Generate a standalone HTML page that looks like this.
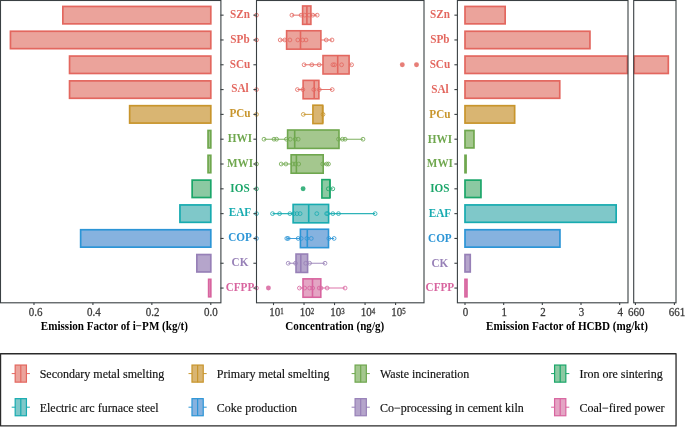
<!DOCTYPE html>
<html><head><meta charset="utf-8"><style>
html,body{margin:0;padding:0;background:#fff;width:685px;height:427px;overflow:hidden}
.wrap{will-change:transform;width:685px;height:427px}
svg{display:block}
text{font-family:"Liberation Serif",serif}
.tk{font-size:11px;fill:#3A3A3A;stroke:#3A3A3A;stroke-width:0.25px}
.sup{font-size:6.9px}
.ttl{font-size:11.1px;font-weight:bold;fill:#000}
.lab{font-size:11.2px;font-weight:bold}
.lg{font-size:12px;fill:#111;stroke:#111;stroke-width:0.15px}
</style></head><body><div class="wrap">
<svg width="685" height="427" viewBox="0 0 685 427">
<rect x="0" y="0" width="685" height="427" fill="#fff"/>
<rect x="62.85" y="6.45" width="147.95" height="17.40" fill="#EBA39B" stroke="#E3675F" stroke-width="1.7"/>
<rect x="10.45" y="31.26" width="200.35" height="17.40" fill="#EBA39B" stroke="#E3675F" stroke-width="1.7"/>
<rect x="69.55" y="56.07" width="141.25" height="17.40" fill="#EBA39B" stroke="#E3675F" stroke-width="1.7"/>
<rect x="69.55" y="80.88" width="141.25" height="17.40" fill="#EBA39B" stroke="#E3675F" stroke-width="1.7"/>
<rect x="129.65" y="105.69" width="81.15" height="17.40" fill="#D9B572" stroke="#C8952C" stroke-width="1.7"/>
<rect x="208.05" y="130.50" width="2.75" height="17.40" fill="#A4C78E" stroke="#6FA74E" stroke-width="1.7"/>
<rect x="208.05" y="155.31" width="2.75" height="17.40" fill="#A4C78E" stroke="#6FA74E" stroke-width="1.7"/>
<rect x="192.15" y="180.12" width="18.65" height="17.40" fill="#8BC9A2" stroke="#1BA66A" stroke-width="1.7"/>
<rect x="179.95" y="204.93" width="30.85" height="17.40" fill="#7FC8C9" stroke="#17ABB0" stroke-width="1.7"/>
<rect x="80.65" y="229.74" width="130.15" height="17.40" fill="#86B2DF" stroke="#2C95D6" stroke-width="1.7"/>
<rect x="196.85" y="254.55" width="13.95" height="17.40" fill="#B5A5CB" stroke="#9780B7" stroke-width="1.7"/>
<rect x="208.65" y="279.36" width="2.15" height="17.40" fill="#E4A5C4" stroke="#D8649F" stroke-width="1.7"/>
<rect x="0.5" y="0.5" width="220.4" height="302.3" fill="none" stroke="#3A4043" stroke-width="1.1"/>
<line x1="220.5" x2="223.6" y1="15.15" y2="15.15" stroke="#3A4043" stroke-width="1.1"/>
<line x1="220.5" x2="223.6" y1="39.96" y2="39.96" stroke="#3A4043" stroke-width="1.1"/>
<line x1="220.5" x2="223.6" y1="64.77" y2="64.77" stroke="#3A4043" stroke-width="1.1"/>
<line x1="220.5" x2="223.6" y1="89.58" y2="89.58" stroke="#3A4043" stroke-width="1.1"/>
<line x1="220.5" x2="223.6" y1="114.39" y2="114.39" stroke="#3A4043" stroke-width="1.1"/>
<line x1="220.5" x2="223.6" y1="139.20" y2="139.20" stroke="#3A4043" stroke-width="1.1"/>
<line x1="220.5" x2="223.6" y1="164.01" y2="164.01" stroke="#3A4043" stroke-width="1.1"/>
<line x1="220.5" x2="223.6" y1="188.82" y2="188.82" stroke="#3A4043" stroke-width="1.1"/>
<line x1="220.5" x2="223.6" y1="213.63" y2="213.63" stroke="#3A4043" stroke-width="1.1"/>
<line x1="220.5" x2="223.6" y1="238.44" y2="238.44" stroke="#3A4043" stroke-width="1.1"/>
<line x1="220.5" x2="223.6" y1="263.25" y2="263.25" stroke="#3A4043" stroke-width="1.1"/>
<line x1="220.5" x2="223.6" y1="288.06" y2="288.06" stroke="#3A4043" stroke-width="1.1"/>
<line x1="33.98" x2="33.98" y1="302.8" y2="305.1" stroke="#3A4043" stroke-width="1.1"/>
<text transform="translate(35.60 316.20) scale(1 1.05)" text-anchor="middle" class="tk">0.6</text>
<line x1="92.92" x2="92.92" y1="302.8" y2="305.1" stroke="#3A4043" stroke-width="1.1"/>
<text transform="translate(93.90 316.20) scale(1 1.05)" text-anchor="middle" class="tk">0.4</text>
<line x1="151.86" x2="151.86" y1="302.8" y2="305.1" stroke="#3A4043" stroke-width="1.1"/>
<text transform="translate(152.70 316.20) scale(1 1.05)" text-anchor="middle" class="tk">0.2</text>
<line x1="210.80" x2="210.80" y1="302.8" y2="305.1" stroke="#3A4043" stroke-width="1.1"/>
<text transform="translate(210.90 316.20) scale(1 1.05)" text-anchor="middle" class="tk">0.0</text>
<text transform="translate(114.40 329.80) scale(1 1.1)" text-anchor="middle" class="ttl">Emission Factor of i−PM (kg/t)</text>
<text transform="translate(240.00 17.95) scale(1 1.1)" text-anchor="middle" class="lab" fill="#E3675F">SZn</text>
<text transform="translate(240.00 42.76) scale(1 1.1)" text-anchor="middle" class="lab" fill="#E3675F">SPb</text>
<text transform="translate(240.00 67.57) scale(1 1.1)" text-anchor="middle" class="lab" fill="#E3675F">SCu</text>
<text transform="translate(240.00 92.38) scale(1 1.1)" text-anchor="middle" class="lab" fill="#E3675F">SAl</text>
<text transform="translate(240.00 117.19) scale(1 1.1)" text-anchor="middle" class="lab" fill="#C8952C">PCu</text>
<text transform="translate(240.00 142.00) scale(1 1.1)" text-anchor="middle" class="lab" fill="#6FA74E">HWI</text>
<text transform="translate(240.00 166.81) scale(1 1.1)" text-anchor="middle" class="lab" fill="#6FA74E">MWI</text>
<text transform="translate(240.00 191.62) scale(1 1.1)" text-anchor="middle" class="lab" fill="#1BA66A">IOS</text>
<text transform="translate(240.00 216.43) scale(1 1.1)" text-anchor="middle" class="lab" fill="#17ABB0">EAF</text>
<text transform="translate(240.00 241.24) scale(1 1.1)" text-anchor="middle" class="lab" fill="#2C95D6">COP</text>
<text transform="translate(240.00 266.05) scale(1 1.1)" text-anchor="middle" class="lab" fill="#9780B7">CK</text>
<text transform="translate(240.00 290.86) scale(1 1.1)" text-anchor="middle" class="lab" fill="#D8649F">CFPP</text>
<line x1="291.9" x2="317.2" y1="15.15" y2="15.15" stroke="#E3675F" stroke-width="1.05" stroke-opacity="0.9"/>
<rect x="302.6" y="5.95" width="8.30" height="18.40" fill="#EBA39B" stroke="#E3675F" stroke-width="1.6"/>
<line x1="306.9" x2="306.9" y1="5.95" y2="24.35" stroke="#E3675F" stroke-width="1.6"/>
<circle cx="291.9" cy="15.15" r="1.9" fill="none" stroke="#E3675F" stroke-width="1" stroke-opacity="0.8"/>
<circle cx="301.1" cy="15.15" r="1.9" fill="none" stroke="#E3675F" stroke-width="1" stroke-opacity="0.8"/>
<circle cx="304.7" cy="15.15" r="1.9" fill="none" stroke="#E3675F" stroke-width="1" stroke-opacity="0.8"/>
<circle cx="309.1" cy="15.15" r="1.9" fill="none" stroke="#E3675F" stroke-width="1" stroke-opacity="0.8"/>
<circle cx="312.8" cy="15.15" r="1.9" fill="none" stroke="#E3675F" stroke-width="1" stroke-opacity="0.8"/>
<circle cx="317.2" cy="15.15" r="1.9" fill="none" stroke="#E3675F" stroke-width="1" stroke-opacity="0.8"/>
<circle cx="256.5" cy="15.15" r="1.9" fill="none" stroke="#E3675F" stroke-width="1" stroke-opacity="0.8"/>
<line x1="280.2" x2="332.0" y1="39.96" y2="39.96" stroke="#E3675F" stroke-width="1.05" stroke-opacity="0.9"/>
<rect x="286.6" y="30.76" width="34.30" height="18.40" fill="#EBA39B" stroke="#E3675F" stroke-width="1.6"/>
<line x1="300.5" x2="300.5" y1="30.76" y2="49.16" stroke="#E3675F" stroke-width="1.6"/>
<circle cx="280.2" cy="39.96" r="1.9" fill="none" stroke="#E3675F" stroke-width="1" stroke-opacity="0.8"/>
<circle cx="284.8" cy="39.96" r="1.9" fill="none" stroke="#E3675F" stroke-width="1" stroke-opacity="0.8"/>
<circle cx="289.9" cy="39.96" r="1.9" fill="none" stroke="#E3675F" stroke-width="1" stroke-opacity="0.8"/>
<circle cx="297.8" cy="39.96" r="1.9" fill="none" stroke="#E3675F" stroke-width="1" stroke-opacity="0.8"/>
<circle cx="302.7" cy="39.96" r="1.9" fill="none" stroke="#E3675F" stroke-width="1" stroke-opacity="0.8"/>
<circle cx="306.0" cy="39.96" r="1.9" fill="none" stroke="#E3675F" stroke-width="1" stroke-opacity="0.8"/>
<circle cx="326.2" cy="39.96" r="1.9" fill="none" stroke="#E3675F" stroke-width="1" stroke-opacity="0.8"/>
<circle cx="332.0" cy="39.96" r="1.9" fill="none" stroke="#E3675F" stroke-width="1" stroke-opacity="0.8"/>
<circle cx="256.5" cy="39.96" r="1.9" fill="none" stroke="#E3675F" stroke-width="1" stroke-opacity="0.8"/>
<line x1="304.1" x2="351.6" y1="64.77" y2="64.77" stroke="#E3675F" stroke-width="1.05" stroke-opacity="0.9"/>
<rect x="323.0" y="55.57" width="26.10" height="18.40" fill="#EBA39B" stroke="#E3675F" stroke-width="1.6"/>
<line x1="337.7" x2="337.7" y1="55.57" y2="73.97" stroke="#E3675F" stroke-width="1.6"/>
<circle cx="304.1" cy="64.77" r="1.9" fill="none" stroke="#E3675F" stroke-width="1" stroke-opacity="0.8"/>
<circle cx="311.8" cy="64.77" r="1.9" fill="none" stroke="#E3675F" stroke-width="1" stroke-opacity="0.8"/>
<circle cx="319.1" cy="64.77" r="1.9" fill="none" stroke="#E3675F" stroke-width="1" stroke-opacity="0.8"/>
<circle cx="332.9" cy="64.77" r="1.9" fill="none" stroke="#E3675F" stroke-width="1" stroke-opacity="0.8"/>
<circle cx="334.5" cy="64.77" r="1.9" fill="none" stroke="#E3675F" stroke-width="1" stroke-opacity="0.8"/>
<circle cx="341.6" cy="64.77" r="1.9" fill="none" stroke="#E3675F" stroke-width="1" stroke-opacity="0.8"/>
<circle cx="351.6" cy="64.77" r="1.9" fill="none" stroke="#E3675F" stroke-width="1" stroke-opacity="0.8"/>
<circle cx="402.3" cy="64.77" r="2.45" fill="#E3675F" fill-opacity="0.85"/>
<circle cx="416.5" cy="64.77" r="2.45" fill="#E3675F" fill-opacity="0.85"/>
<line x1="297.4" x2="332.2" y1="89.58" y2="89.58" stroke="#E3675F" stroke-width="1.05" stroke-opacity="0.9"/>
<rect x="303.1" y="80.38" width="15.80" height="18.40" fill="#EBA39B" stroke="#E3675F" stroke-width="1.6"/>
<line x1="314.2" x2="314.2" y1="80.38" y2="98.78" stroke="#E3675F" stroke-width="1.6"/>
<circle cx="297.4" cy="89.58" r="1.9" fill="none" stroke="#E3675F" stroke-width="1" stroke-opacity="0.8"/>
<circle cx="302.8" cy="89.58" r="1.9" fill="none" stroke="#E3675F" stroke-width="1" stroke-opacity="0.8"/>
<circle cx="313.8" cy="89.58" r="1.9" fill="none" stroke="#E3675F" stroke-width="1" stroke-opacity="0.8"/>
<circle cx="319.3" cy="89.58" r="1.9" fill="none" stroke="#E3675F" stroke-width="1" stroke-opacity="0.8"/>
<circle cx="332.2" cy="89.58" r="1.9" fill="none" stroke="#E3675F" stroke-width="1" stroke-opacity="0.8"/>
<circle cx="256.5" cy="89.58" r="1.9" fill="none" stroke="#E3675F" stroke-width="1" stroke-opacity="0.8"/>
<line x1="303.5" x2="323.3" y1="114.39" y2="114.39" stroke="#C8952C" stroke-width="1.05" stroke-opacity="0.9"/>
<rect x="312.90000000000003" y="105.19" width="9.70" height="18.40" fill="#D9B572" stroke="#C8952C" stroke-width="1.6"/>
<line x1="322.8" x2="322.8" y1="105.19" y2="123.59" stroke="#C8952C" stroke-width="1.6"/>
<circle cx="303.3" cy="114.39" r="1.9" fill="none" stroke="#C8952C" stroke-width="1" stroke-opacity="0.8"/>
<circle cx="323.0" cy="114.39" r="1.9" fill="none" stroke="#C8952C" stroke-width="1" stroke-opacity="0.8"/>
<circle cx="256.5" cy="114.39" r="1.9" fill="none" stroke="#C8952C" stroke-width="1" stroke-opacity="0.8"/>
<line x1="264.0" x2="363.0" y1="139.20" y2="139.20" stroke="#6FA74E" stroke-width="1.05" stroke-opacity="0.9"/>
<rect x="287.6" y="130.00" width="51.40" height="18.40" fill="#A4C78E" stroke="#6FA74E" stroke-width="1.6"/>
<line x1="294.7" x2="294.7" y1="130.00" y2="148.40" stroke="#6FA74E" stroke-width="1.6"/>
<circle cx="264.0" cy="139.20" r="1.9" fill="none" stroke="#6FA74E" stroke-width="1" stroke-opacity="0.8"/>
<circle cx="274.0" cy="139.20" r="1.9" fill="none" stroke="#6FA74E" stroke-width="1" stroke-opacity="0.8"/>
<circle cx="276.6" cy="139.20" r="1.9" fill="none" stroke="#6FA74E" stroke-width="1" stroke-opacity="0.8"/>
<circle cx="286.4" cy="139.20" r="1.9" fill="none" stroke="#6FA74E" stroke-width="1" stroke-opacity="0.8"/>
<circle cx="290.3" cy="139.20" r="1.9" fill="none" stroke="#6FA74E" stroke-width="1" stroke-opacity="0.8"/>
<circle cx="295.2" cy="139.20" r="1.9" fill="none" stroke="#6FA74E" stroke-width="1" stroke-opacity="0.8"/>
<circle cx="298.2" cy="139.20" r="1.9" fill="none" stroke="#6FA74E" stroke-width="1" stroke-opacity="0.8"/>
<circle cx="338.5" cy="139.20" r="1.9" fill="none" stroke="#6FA74E" stroke-width="1" stroke-opacity="0.8"/>
<circle cx="342.5" cy="139.20" r="1.9" fill="none" stroke="#6FA74E" stroke-width="1" stroke-opacity="0.8"/>
<circle cx="345.1" cy="139.20" r="1.9" fill="none" stroke="#6FA74E" stroke-width="1" stroke-opacity="0.8"/>
<circle cx="363.0" cy="139.20" r="1.9" fill="none" stroke="#6FA74E" stroke-width="1" stroke-opacity="0.8"/>
<line x1="281.2" x2="328.5" y1="164.01" y2="164.01" stroke="#6FA74E" stroke-width="1.05" stroke-opacity="0.9"/>
<rect x="291.1" y="154.81" width="32.10" height="18.40" fill="#A4C78E" stroke="#6FA74E" stroke-width="1.6"/>
<line x1="296.4" x2="296.4" y1="154.81" y2="173.21" stroke="#6FA74E" stroke-width="1.6"/>
<circle cx="281.2" cy="164.01" r="1.9" fill="none" stroke="#6FA74E" stroke-width="1" stroke-opacity="0.8"/>
<circle cx="285.9" cy="164.01" r="1.9" fill="none" stroke="#6FA74E" stroke-width="1" stroke-opacity="0.8"/>
<circle cx="292.9" cy="164.01" r="1.9" fill="none" stroke="#6FA74E" stroke-width="1" stroke-opacity="0.8"/>
<circle cx="295.2" cy="164.01" r="1.9" fill="none" stroke="#6FA74E" stroke-width="1" stroke-opacity="0.8"/>
<circle cx="298.7" cy="164.01" r="1.9" fill="none" stroke="#6FA74E" stroke-width="1" stroke-opacity="0.8"/>
<circle cx="322.7" cy="164.01" r="1.9" fill="none" stroke="#6FA74E" stroke-width="1" stroke-opacity="0.8"/>
<circle cx="326.7" cy="164.01" r="1.9" fill="none" stroke="#6FA74E" stroke-width="1" stroke-opacity="0.8"/>
<circle cx="328.5" cy="164.01" r="1.9" fill="none" stroke="#6FA74E" stroke-width="1" stroke-opacity="0.8"/>
<circle cx="256.5" cy="164.01" r="1.9" fill="none" stroke="#6FA74E" stroke-width="1" stroke-opacity="0.8"/>
<line x1="321.1" x2="332.8" y1="188.82" y2="188.82" stroke="#1BA66A" stroke-width="1.05" stroke-opacity="0.9"/>
<rect x="321.90000000000003" y="179.62" width="7.90" height="18.40" fill="#8BC9A2" stroke="#1BA66A" stroke-width="1.6"/>
<line x1="330.0" x2="330.0" y1="179.62" y2="198.02" stroke="#1BA66A" stroke-width="1.6"/>
<circle cx="328.3" cy="188.82" r="1.9" fill="none" stroke="#1BA66A" stroke-width="1" stroke-opacity="0.8"/>
<circle cx="332.8" cy="188.82" r="1.9" fill="none" stroke="#1BA66A" stroke-width="1" stroke-opacity="0.8"/>
<circle cx="303.1" cy="188.82" r="2.45" fill="#1BA66A" fill-opacity="0.85"/>
<circle cx="256.5" cy="188.82" r="1.9" fill="none" stroke="#1BA66A" stroke-width="1" stroke-opacity="0.8"/>
<line x1="272.5" x2="375.1" y1="213.63" y2="213.63" stroke="#17ABB0" stroke-width="1.05" stroke-opacity="0.9"/>
<rect x="293.1" y="204.43" width="35.50" height="18.40" fill="#7FC8C9" stroke="#17ABB0" stroke-width="1.6"/>
<line x1="308.7" x2="308.7" y1="204.43" y2="222.83" stroke="#17ABB0" stroke-width="1.6"/>
<circle cx="272.5" cy="213.63" r="1.9" fill="none" stroke="#17ABB0" stroke-width="1" stroke-opacity="0.8"/>
<circle cx="279.6" cy="213.63" r="1.9" fill="none" stroke="#17ABB0" stroke-width="1" stroke-opacity="0.8"/>
<circle cx="289.9" cy="213.63" r="1.9" fill="none" stroke="#17ABB0" stroke-width="1" stroke-opacity="0.8"/>
<circle cx="293.9" cy="213.63" r="1.9" fill="none" stroke="#17ABB0" stroke-width="1" stroke-opacity="0.8"/>
<circle cx="297.0" cy="213.63" r="1.9" fill="none" stroke="#17ABB0" stroke-width="1" stroke-opacity="0.8"/>
<circle cx="300.1" cy="213.63" r="1.9" fill="none" stroke="#17ABB0" stroke-width="1" stroke-opacity="0.8"/>
<circle cx="316.8" cy="213.63" r="1.9" fill="none" stroke="#17ABB0" stroke-width="1" stroke-opacity="0.8"/>
<circle cx="326.6" cy="213.63" r="1.9" fill="none" stroke="#17ABB0" stroke-width="1" stroke-opacity="0.8"/>
<circle cx="327.7" cy="213.63" r="1.9" fill="none" stroke="#17ABB0" stroke-width="1" stroke-opacity="0.8"/>
<circle cx="332.8" cy="213.63" r="1.9" fill="none" stroke="#17ABB0" stroke-width="1" stroke-opacity="0.8"/>
<circle cx="338.5" cy="213.63" r="1.9" fill="none" stroke="#17ABB0" stroke-width="1" stroke-opacity="0.8"/>
<circle cx="375.1" cy="213.63" r="1.9" fill="none" stroke="#17ABB0" stroke-width="1" stroke-opacity="0.8"/>
<circle cx="256.5" cy="213.63" r="1.9" fill="none" stroke="#17ABB0" stroke-width="1" stroke-opacity="0.8"/>
<line x1="286.8" x2="334.1" y1="238.44" y2="238.44" stroke="#2C95D6" stroke-width="1.05" stroke-opacity="0.9"/>
<rect x="300.40000000000003" y="229.24" width="28.10" height="18.40" fill="#86B2DF" stroke="#2C95D6" stroke-width="1.6"/>
<line x1="307.3" x2="307.3" y1="229.24" y2="247.64" stroke="#2C95D6" stroke-width="1.6"/>
<circle cx="286.8" cy="238.44" r="1.9" fill="none" stroke="#2C95D6" stroke-width="1" stroke-opacity="0.8"/>
<circle cx="288.2" cy="238.44" r="1.9" fill="none" stroke="#2C95D6" stroke-width="1" stroke-opacity="0.8"/>
<circle cx="298.2" cy="238.44" r="1.9" fill="none" stroke="#2C95D6" stroke-width="1" stroke-opacity="0.8"/>
<circle cx="301.2" cy="238.44" r="1.9" fill="none" stroke="#2C95D6" stroke-width="1" stroke-opacity="0.8"/>
<circle cx="306.9" cy="238.44" r="1.9" fill="none" stroke="#2C95D6" stroke-width="1" stroke-opacity="0.8"/>
<circle cx="311.3" cy="238.44" r="1.9" fill="none" stroke="#2C95D6" stroke-width="1" stroke-opacity="0.8"/>
<circle cx="328.8" cy="238.44" r="1.9" fill="none" stroke="#2C95D6" stroke-width="1" stroke-opacity="0.8"/>
<circle cx="334.1" cy="238.44" r="1.9" fill="none" stroke="#2C95D6" stroke-width="1" stroke-opacity="0.8"/>
<circle cx="256.5" cy="238.44" r="1.9" fill="none" stroke="#2C95D6" stroke-width="1" stroke-opacity="0.8"/>
<line x1="288.2" x2="325.0" y1="263.25" y2="263.25" stroke="#9780B7" stroke-width="1.05" stroke-opacity="0.9"/>
<rect x="296.0" y="254.05" width="11.60" height="18.40" fill="#B5A5CB" stroke="#9780B7" stroke-width="1.6"/>
<line x1="300.8" x2="300.8" y1="254.05" y2="272.45" stroke="#9780B7" stroke-width="1.6"/>
<circle cx="288.2" cy="263.25" r="1.9" fill="none" stroke="#9780B7" stroke-width="1" stroke-opacity="0.8"/>
<circle cx="295.5" cy="263.25" r="1.9" fill="none" stroke="#9780B7" stroke-width="1" stroke-opacity="0.8"/>
<circle cx="305.7" cy="263.25" r="1.9" fill="none" stroke="#9780B7" stroke-width="1" stroke-opacity="0.8"/>
<circle cx="309.6" cy="263.25" r="1.9" fill="none" stroke="#9780B7" stroke-width="1" stroke-opacity="0.8"/>
<circle cx="325.0" cy="263.25" r="1.9" fill="none" stroke="#9780B7" stroke-width="1" stroke-opacity="0.8"/>
<line x1="299.4" x2="345.1" y1="288.06" y2="288.06" stroke="#D8649F" stroke-width="1.05" stroke-opacity="0.9"/>
<rect x="303.0" y="278.86" width="17.80" height="18.40" fill="#E4A5C4" stroke="#D8649F" stroke-width="1.6"/>
<line x1="312.5" x2="312.5" y1="278.86" y2="297.26" stroke="#D8649F" stroke-width="1.6"/>
<circle cx="299.4" cy="288.06" r="1.9" fill="none" stroke="#D8649F" stroke-width="1" stroke-opacity="0.8"/>
<circle cx="304.7" cy="288.06" r="1.9" fill="none" stroke="#D8649F" stroke-width="1" stroke-opacity="0.8"/>
<circle cx="309.6" cy="288.06" r="1.9" fill="none" stroke="#D8649F" stroke-width="1" stroke-opacity="0.8"/>
<circle cx="312.7" cy="288.06" r="1.9" fill="none" stroke="#D8649F" stroke-width="1" stroke-opacity="0.8"/>
<circle cx="319.2" cy="288.06" r="1.9" fill="none" stroke="#D8649F" stroke-width="1" stroke-opacity="0.8"/>
<circle cx="321.0" cy="288.06" r="1.9" fill="none" stroke="#D8649F" stroke-width="1" stroke-opacity="0.8"/>
<circle cx="327.1" cy="288.06" r="1.9" fill="none" stroke="#D8649F" stroke-width="1" stroke-opacity="0.8"/>
<circle cx="345.1" cy="288.06" r="1.9" fill="none" stroke="#D8649F" stroke-width="1" stroke-opacity="0.8"/>
<circle cx="268.4" cy="288.06" r="2.45" fill="#D8649F" fill-opacity="0.85"/>
<circle cx="256.5" cy="288.06" r="1.9" fill="none" stroke="#D8649F" stroke-width="1" stroke-opacity="0.8"/>
<rect x="256.5" y="0.5" width="167.5" height="302.3" fill="none" stroke="#3A4043" stroke-width="1.1"/>
<line x1="253.4" x2="256.5" y1="15.15" y2="15.15" stroke="#3A4043" stroke-width="1.1"/>
<line x1="253.4" x2="256.5" y1="39.96" y2="39.96" stroke="#3A4043" stroke-width="1.1"/>
<line x1="253.4" x2="256.5" y1="64.77" y2="64.77" stroke="#3A4043" stroke-width="1.1"/>
<line x1="253.4" x2="256.5" y1="89.58" y2="89.58" stroke="#3A4043" stroke-width="1.1"/>
<line x1="253.4" x2="256.5" y1="114.39" y2="114.39" stroke="#3A4043" stroke-width="1.1"/>
<line x1="253.4" x2="256.5" y1="139.20" y2="139.20" stroke="#3A4043" stroke-width="1.1"/>
<line x1="253.4" x2="256.5" y1="164.01" y2="164.01" stroke="#3A4043" stroke-width="1.1"/>
<line x1="253.4" x2="256.5" y1="188.82" y2="188.82" stroke="#3A4043" stroke-width="1.1"/>
<line x1="253.4" x2="256.5" y1="213.63" y2="213.63" stroke="#3A4043" stroke-width="1.1"/>
<line x1="253.4" x2="256.5" y1="238.44" y2="238.44" stroke="#3A4043" stroke-width="1.1"/>
<line x1="253.4" x2="256.5" y1="263.25" y2="263.25" stroke="#3A4043" stroke-width="1.1"/>
<line x1="253.4" x2="256.5" y1="288.06" y2="288.06" stroke="#3A4043" stroke-width="1.1"/>
<line x1="273.50" x2="273.50" y1="302.8" y2="305.1" stroke="#3A4043" stroke-width="1.1"/>
<text transform="translate(269.20 316.20) scale(1 1.05)" text-anchor="start" class="tk">10<tspan class="sup" dy="-2.0">1</tspan></text>
<line x1="304.02" x2="304.02" y1="302.8" y2="305.1" stroke="#3A4043" stroke-width="1.1"/>
<text transform="translate(299.72 316.20) scale(1 1.05)" text-anchor="start" class="tk">10<tspan class="sup" dy="-2.0">2</tspan></text>
<line x1="334.54" x2="334.54" y1="302.8" y2="305.1" stroke="#3A4043" stroke-width="1.1"/>
<text transform="translate(330.24 316.20) scale(1 1.05)" text-anchor="start" class="tk">10<tspan class="sup" dy="-2.0">3</tspan></text>
<line x1="365.06" x2="365.06" y1="302.8" y2="305.1" stroke="#3A4043" stroke-width="1.1"/>
<text transform="translate(360.76 316.20) scale(1 1.05)" text-anchor="start" class="tk">10<tspan class="sup" dy="-2.0">4</tspan></text>
<line x1="395.58" x2="395.58" y1="302.8" y2="305.1" stroke="#3A4043" stroke-width="1.1"/>
<text transform="translate(391.28 316.20) scale(1 1.05)" text-anchor="start" class="tk">10<tspan class="sup" dy="-2.0">5</tspan></text>
<text transform="translate(334.80 329.80) scale(1 1.1)" text-anchor="middle" class="ttl">Concentration (ng/g)</text>
<text transform="translate(439.90 18.45) scale(1 1.1)" text-anchor="middle" class="lab" fill="#E3675F">SZn</text>
<text transform="translate(439.90 43.26) scale(1 1.1)" text-anchor="middle" class="lab" fill="#E3675F">SPb</text>
<text transform="translate(439.90 68.07) scale(1 1.1)" text-anchor="middle" class="lab" fill="#E3675F">SCu</text>
<text transform="translate(439.90 92.88) scale(1 1.1)" text-anchor="middle" class="lab" fill="#E3675F">SAl</text>
<text transform="translate(439.90 117.69) scale(1 1.1)" text-anchor="middle" class="lab" fill="#C8952C">PCu</text>
<text transform="translate(439.90 142.50) scale(1 1.1)" text-anchor="middle" class="lab" fill="#6FA74E">HWI</text>
<text transform="translate(439.90 167.31) scale(1 1.1)" text-anchor="middle" class="lab" fill="#6FA74E">MWI</text>
<text transform="translate(439.90 192.12) scale(1 1.1)" text-anchor="middle" class="lab" fill="#1BA66A">IOS</text>
<text transform="translate(439.90 216.93) scale(1 1.1)" text-anchor="middle" class="lab" fill="#17ABB0">EAF</text>
<text transform="translate(439.90 241.74) scale(1 1.1)" text-anchor="middle" class="lab" fill="#2C95D6">COP</text>
<text transform="translate(439.90 266.55) scale(1 1.1)" text-anchor="middle" class="lab" fill="#9780B7">CK</text>
<text transform="translate(439.90 291.36) scale(1 1.1)" text-anchor="middle" class="lab" fill="#D8649F">CFPP</text>
<rect x="465.0" y="6.45" width="40.15" height="17.40" fill="#EBA39B" stroke="#E3675F" stroke-width="1.7"/>
<rect x="465.0" y="31.26" width="124.95" height="17.40" fill="#EBA39B" stroke="#E3675F" stroke-width="1.7"/>
<rect x="465.0" y="56.07" width="162.30" height="17.40" fill="#EBA39B" stroke="#E3675F" stroke-width="1.7"/>
<rect x="465.0" y="80.88" width="94.75" height="17.40" fill="#EBA39B" stroke="#E3675F" stroke-width="1.7"/>
<rect x="465.0" y="105.69" width="49.65" height="17.40" fill="#D9B572" stroke="#C8952C" stroke-width="1.7"/>
<rect x="465.0" y="130.50" width="8.95" height="17.40" fill="#A4C78E" stroke="#6FA74E" stroke-width="1.7"/>
<rect x="465.0" y="155.31" width="1.05" height="17.40" fill="#A4C78E" stroke="#6FA74E" stroke-width="1.7"/>
<rect x="465.0" y="180.12" width="15.95" height="17.40" fill="#8BC9A2" stroke="#1BA66A" stroke-width="1.7"/>
<rect x="465.0" y="204.93" width="151.15" height="17.40" fill="#7FC8C9" stroke="#17ABB0" stroke-width="1.7"/>
<rect x="465.0" y="229.74" width="94.95" height="17.40" fill="#86B2DF" stroke="#2C95D6" stroke-width="1.7"/>
<rect x="465.0" y="254.55" width="5.25" height="17.40" fill="#B5A5CB" stroke="#9780B7" stroke-width="1.7"/>
<rect x="465.0" y="279.36" width="1.95" height="17.40" fill="#E4A5C4" stroke="#D8649F" stroke-width="1.7"/>
<rect x="457.4" y="0.5" width="170.6" height="302.3" fill="none" stroke="#3A4043" stroke-width="1.1"/>
<rect x="634.2" y="56.07" width="34.10" height="17.40" fill="#EBA39B" stroke="#E3675F" stroke-width="1.7"/>
<rect x="633.7" y="0.5" width="42.3" height="302.3" fill="none" stroke="#3A4043" stroke-width="1.1"/>
<line x1="454.4" x2="457.5" y1="15.15" y2="15.15" stroke="#3A4043" stroke-width="1.1"/>
<line x1="454.4" x2="457.5" y1="39.96" y2="39.96" stroke="#3A4043" stroke-width="1.1"/>
<line x1="454.4" x2="457.5" y1="64.77" y2="64.77" stroke="#3A4043" stroke-width="1.1"/>
<line x1="454.4" x2="457.5" y1="89.58" y2="89.58" stroke="#3A4043" stroke-width="1.1"/>
<line x1="454.4" x2="457.5" y1="114.39" y2="114.39" stroke="#3A4043" stroke-width="1.1"/>
<line x1="454.4" x2="457.5" y1="139.20" y2="139.20" stroke="#3A4043" stroke-width="1.1"/>
<line x1="454.4" x2="457.5" y1="164.01" y2="164.01" stroke="#3A4043" stroke-width="1.1"/>
<line x1="454.4" x2="457.5" y1="188.82" y2="188.82" stroke="#3A4043" stroke-width="1.1"/>
<line x1="454.4" x2="457.5" y1="213.63" y2="213.63" stroke="#3A4043" stroke-width="1.1"/>
<line x1="454.4" x2="457.5" y1="238.44" y2="238.44" stroke="#3A4043" stroke-width="1.1"/>
<line x1="454.4" x2="457.5" y1="263.25" y2="263.25" stroke="#3A4043" stroke-width="1.1"/>
<line x1="454.4" x2="457.5" y1="288.06" y2="288.06" stroke="#3A4043" stroke-width="1.1"/>
<line x1="465.00" x2="465.00" y1="302.8" y2="305.1" stroke="#3A4043" stroke-width="1.1"/>
<text transform="translate(465.60 316.20) scale(1 1.05)" text-anchor="middle" class="tk">0</text>
<line x1="503.67" x2="503.67" y1="302.8" y2="305.1" stroke="#3A4043" stroke-width="1.1"/>
<text transform="translate(504.27 316.20) scale(1 1.05)" text-anchor="middle" class="tk">1</text>
<line x1="542.34" x2="542.34" y1="302.8" y2="305.1" stroke="#3A4043" stroke-width="1.1"/>
<text transform="translate(542.94 316.20) scale(1 1.05)" text-anchor="middle" class="tk">2</text>
<line x1="581.01" x2="581.01" y1="302.8" y2="305.1" stroke="#3A4043" stroke-width="1.1"/>
<text transform="translate(581.61 316.20) scale(1 1.05)" text-anchor="middle" class="tk">3</text>
<line x1="619.68" x2="619.68" y1="302.8" y2="305.1" stroke="#3A4043" stroke-width="1.1"/>
<text transform="translate(620.28 316.20) scale(1 1.05)" text-anchor="middle" class="tk">4</text>
<line x1="635.40" x2="635.40" y1="302.8" y2="305.1" stroke="#3A4043" stroke-width="1.1"/>
<text transform="translate(636.20 316.20) scale(1 1.05)" text-anchor="middle" class="tk">660</text>
<line x1="674.40" x2="674.40" y1="302.8" y2="305.1" stroke="#3A4043" stroke-width="1.1"/>
<text transform="translate(676.90 316.20) scale(1 1.05)" text-anchor="middle" class="tk">661</text>
<text transform="translate(567.00 329.80) scale(1 1.1)" text-anchor="middle" class="ttl">Emission Factor of HCBD (mg/kt)</text>
<rect x="0.55" y="353.75" width="675.5" height="72.15" fill="none" stroke="#2A2A2A" stroke-width="1.3" stroke-linejoin="round"/>
<line x1="11.70" x2="29.90" y1="373.6" y2="373.6" stroke="#E3675F" stroke-width="1"/>
<rect x="15.18" y="365.05" width="11.25" height="17.1" fill="#EBA39B" stroke="#E3675F" stroke-width="1.2"/>
<line x1="20.80" x2="20.80" y1="365.05" y2="382.15" stroke="#E3675F" stroke-width="1.2"/>
<text transform="translate(39.70 377.90) scale(1 1.0)" text-anchor="start" class="lg">Secondary metal smelting</text>
<line x1="188.50" x2="206.70" y1="373.6" y2="373.6" stroke="#C8952C" stroke-width="1"/>
<rect x="191.98" y="365.05" width="11.25" height="17.1" fill="#D9B572" stroke="#C8952C" stroke-width="1.2"/>
<line x1="197.60" x2="197.60" y1="365.05" y2="382.15" stroke="#C8952C" stroke-width="1.2"/>
<text transform="translate(216.80 377.90) scale(1 1.0)" text-anchor="start" class="lg">Primary metal smelting</text>
<line x1="351.60" x2="369.80" y1="373.6" y2="373.6" stroke="#6FA74E" stroke-width="1"/>
<rect x="355.08" y="365.05" width="11.25" height="17.1" fill="#A4C78E" stroke="#6FA74E" stroke-width="1.2"/>
<line x1="360.70" x2="360.70" y1="365.05" y2="382.15" stroke="#6FA74E" stroke-width="1.2"/>
<text transform="translate(380.00 377.90) scale(1 1.0)" text-anchor="start" class="lg">Waste incineration</text>
<line x1="551.10" x2="569.30" y1="373.6" y2="373.6" stroke="#1BA66A" stroke-width="1"/>
<rect x="554.58" y="365.05" width="11.25" height="17.1" fill="#8BC9A2" stroke="#1BA66A" stroke-width="1.2"/>
<line x1="560.20" x2="560.20" y1="365.05" y2="382.15" stroke="#1BA66A" stroke-width="1.2"/>
<text transform="translate(579.40 377.90) scale(1 1.0)" text-anchor="start" class="lg">Iron ore sintering</text>
<line x1="11.70" x2="29.90" y1="407.2" y2="407.2" stroke="#17ABB0" stroke-width="1"/>
<rect x="15.18" y="398.65" width="11.25" height="17.1" fill="#7FC8C9" stroke="#17ABB0" stroke-width="1.2"/>
<line x1="20.80" x2="20.80" y1="398.65" y2="415.75" stroke="#17ABB0" stroke-width="1.2"/>
<text transform="translate(39.70 411.50) scale(1 1.0)" text-anchor="start" class="lg">Electric arc furnace steel</text>
<line x1="188.50" x2="206.70" y1="407.2" y2="407.2" stroke="#2C95D6" stroke-width="1"/>
<rect x="191.98" y="398.65" width="11.25" height="17.1" fill="#86B2DF" stroke="#2C95D6" stroke-width="1.2"/>
<line x1="197.60" x2="197.60" y1="398.65" y2="415.75" stroke="#2C95D6" stroke-width="1.2"/>
<text transform="translate(216.80 411.50) scale(1 1.0)" text-anchor="start" class="lg">Coke production</text>
<line x1="351.60" x2="369.80" y1="407.2" y2="407.2" stroke="#9780B7" stroke-width="1"/>
<rect x="355.08" y="398.65" width="11.25" height="17.1" fill="#B5A5CB" stroke="#9780B7" stroke-width="1.2"/>
<line x1="360.70" x2="360.70" y1="398.65" y2="415.75" stroke="#9780B7" stroke-width="1.2"/>
<text transform="translate(380.00 411.50) scale(1 1.0)" text-anchor="start" class="lg">Co−processing in cement kiln</text>
<line x1="551.10" x2="569.30" y1="407.2" y2="407.2" stroke="#D8649F" stroke-width="1"/>
<rect x="554.58" y="398.65" width="11.25" height="17.1" fill="#E4A5C4" stroke="#D8649F" stroke-width="1.2"/>
<line x1="560.20" x2="560.20" y1="398.65" y2="415.75" stroke="#D8649F" stroke-width="1.2"/>
<text transform="translate(579.40 411.50) scale(1 1.0)" text-anchor="start" class="lg">Coal−fired power</text>
</svg>
</div></body></html>
